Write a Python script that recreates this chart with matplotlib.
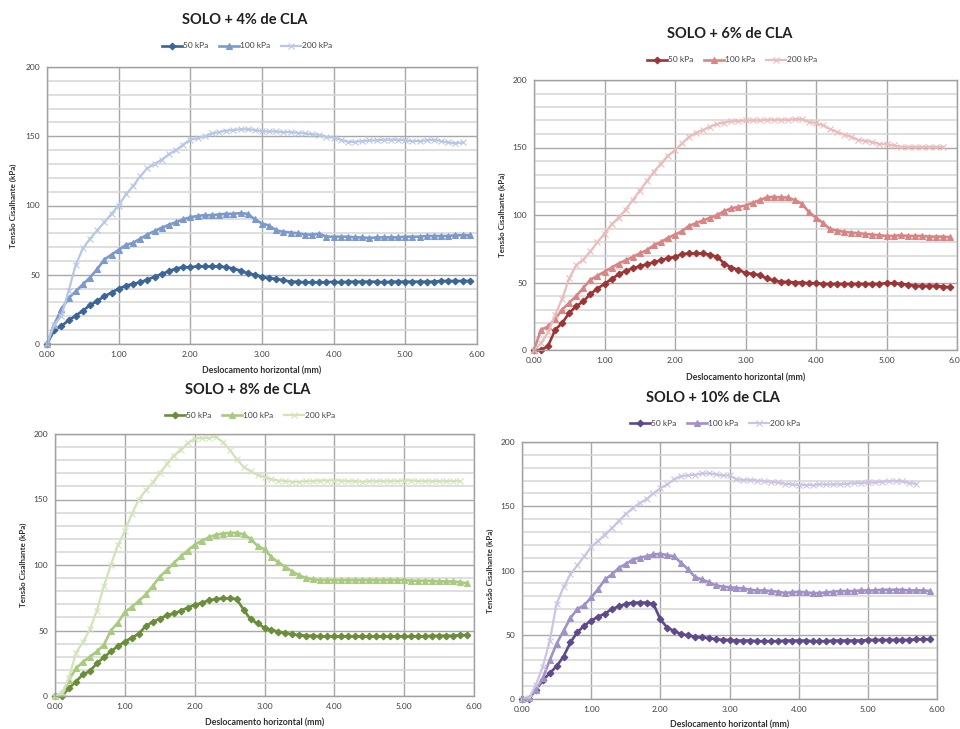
import matplotlib
matplotlib.use("Agg")
import matplotlib.pyplot as plt
from matplotlib.ticker import MultipleLocator, FormatStrFormatter

plt.rcParams['font.family'] = ['Lato', 'DejaVu Sans']

# horizontal displacement (mm), one reading every 0.1 mm
desl = [0.0, 0.1, 0.2, 0.3, 0.4, 0.5, 0.6, 0.7, 0.8, 0.9,
        1.0, 1.1, 1.2, 1.3, 1.4, 1.5, 1.6, 1.7, 1.8, 1.9,
        2.0, 2.1, 2.2, 2.3, 2.4, 2.5, 2.6, 2.7, 2.8, 2.9,
        3.0, 3.1, 3.2, 3.3, 3.4, 3.5, 3.6, 3.7, 3.8, 3.9,
        4.0, 4.1, 4.2, 4.3, 4.4, 4.5, 4.6, 4.7, 4.8, 4.9,
        5.0, 5.1, 5.2, 5.3, 5.4, 5.5, 5.6, 5.7, 5.8, 5.9]

labels = ['50 kPa', '100 kPa', '200 kPa']

# SOLO + 4% de CLA
cla4_50 = [0, 10, 13, 17, 20.5, 24, 28, 31, 34.5, 37,
           40, 42, 43.5, 44.5, 46.5, 48.5, 50.5, 52.5, 54.5, 55.5,
           55.5, 56, 56, 56, 56, 55.5, 54.5, 53, 51, 50,
           48.5, 47.5, 47, 46, 45, 45, 44.5, 44.5, 44.5, 44.5,
           45, 44.5, 45, 45, 45, 45, 45, 44.5, 45, 45,
           45, 45, 45, 45, 45, 45.5, 45.5, 45.5, 45.5, 45.5]
cla4_100 = [0, 14, 25, 33, 38, 43, 48, 54, 61, 64.5,
            68, 71.5, 73, 76, 79, 81.5, 84, 86, 88, 90,
            91.5, 92.5, 93, 93, 93.5, 94, 94, 94.5, 94, 90,
            87, 85.5, 82, 81, 80.5, 80, 79, 79, 79.5, 77.5,
            77.5, 77.5, 77.5, 77, 77, 76.5, 77, 77, 77, 77,
            77.5, 77.5, 77.5, 78, 78, 78, 78, 78.5, 78.5, 78.5]
cla4_200 = [0, 14, 20, 38, 57, 69, 76, 82, 88, 94,
            100, 108, 114, 121, 127, 130, 133, 137, 140, 144,
            147.5, 148.5, 150, 152, 153, 154, 154.5, 155, 155, 154.5,
            153.5, 153.5, 153.5, 153, 153, 152.5, 152, 151.5, 151, 149.5,
            149, 147.5, 146, 146, 146.5, 147, 147, 147.5, 147.5, 147.5,
            147, 146.5, 146.5, 147, 147.5, 146.5, 145.5, 145, 145.5]

# SOLO + 6% de CLA
cla6_50 = [0, 0, 3, 15, 20, 27.5, 32.5, 36, 41.5, 45.5,
           49, 52.5, 56, 58.5, 60.5, 62, 63.5, 65, 66.5, 68,
           69, 71, 71.5, 71.5, 71.5, 70.5, 69, 64, 61, 59.5,
           57, 56.5, 55.5, 53, 51.5, 50.5, 50.5, 50, 50, 49.5,
           49.5, 49, 49, 49, 49, 49, 49, 49, 49, 49,
           49.5, 49.5, 49, 48.5, 47.5, 47.5, 47.5, 47.5, 47, 46.5]
cla6_100 = [0, 15, 17.5, 23, 30, 35, 40, 46, 52, 55,
            58, 61, 64, 66.5, 69, 71.5, 74, 77.5, 80, 83,
            85.5, 88, 92, 94, 96, 98, 100, 103, 105, 106,
            107, 109, 111, 113, 113.5, 113, 113, 111, 108.5, 102,
            98, 94, 89.5, 88.5, 87.5, 87, 86.5, 86, 85.5, 85,
            84.5, 84.5, 85, 84.5, 84.5, 84.5, 84, 84, 84, 83.5]
cla6_200 = [0, 5, 13, 26, 38, 53, 63, 67, 73, 80,
            86, 93, 98, 104, 111, 118, 125, 132, 138, 144,
            148, 153, 158, 161, 163, 165.5, 167.5, 168.5, 169.5, 169.5,
            170, 170, 170, 170.5, 170.5, 170.5, 170.5, 171, 171, 169,
            168, 166.5, 163.5, 161.5, 159.5, 158, 155.5, 155, 154, 152.5,
            152.5, 151.5, 150.5, 150.5, 150.5, 150.5, 150.5, 150.5, 150.5]

# SOLO + 8% de CLA
cla8_50 = [0, 0, 6, 11, 16.5, 19, 25, 29.5, 34, 38,
           41.5, 44.5, 47.5, 53.5, 56.5, 59, 61.5, 63, 65, 67.5,
           69.5, 71, 73, 74, 74.5, 74.5, 74, 66, 58.5, 55.5,
           52, 50.5, 49, 48, 47, 46.5, 46, 46, 45.5, 45.5,
           45.5, 45.5, 45.5, 45.5, 45.5, 45.5, 45.5, 45.5, 45.5, 45.5,
           45.5, 45.5, 45.5, 45.5, 46, 46, 46, 46, 46.5, 46.5]
cla8_100 = [0, 2, 12, 21, 26, 30, 34, 39, 50, 56,
            64, 68, 72.5, 77.5, 84, 91, 96, 101.5, 106.5, 111,
            115.5, 118.5, 121, 123, 124, 124.5, 124.5, 123.5, 120, 114.5,
            112, 106, 102, 98.5, 95, 92, 90, 89, 88.5, 88.5,
            88.5, 88.5, 88.5, 88.5, 88.5, 88.5, 88.5, 88.5, 88.5, 88.5,
            88.5, 88, 88, 88, 88, 87.5, 87.5, 87.5, 87, 86]
cla8_200 = [0, 2, 14, 33, 41, 51, 65, 84, 100, 115,
            126, 139, 150, 157, 163, 170, 177, 183.5, 188, 193,
            196.5, 197, 197, 198, 194, 188, 181, 175, 171.5, 169,
            167, 165.5, 164.5, 164, 163.5, 163.5, 164, 164, 164.5, 164.5,
            164.5, 164.5, 164, 164, 163.5, 164, 164, 164, 164, 164,
            164.5, 164.5, 164, 164, 164, 164, 164, 164, 164]

# SOLO + 10% de CLA
cla10_50 = [0, 0, 7, 14.5, 20, 25.5, 33, 44, 52, 57,
            61, 64, 66.5, 70, 72, 74, 75, 75, 75, 74,
            62, 55.5, 53, 50.5, 49.5, 48.5, 48, 47.5, 46.5, 46,
            46, 45.5, 45.5, 45.5, 45, 45, 45, 45, 45.5, 45.5,
            45.5, 45.5, 45, 45, 45, 45.5, 45.5, 45.5, 45.5, 45.5,
            46, 46, 46, 46, 46, 46, 46, 46.5, 46.5, 46.5]
cla10_100 = [0, 1, 7, 16, 30, 43, 53, 63, 70, 73,
             79, 85.5, 93, 97, 102, 105, 108.5, 110, 111, 112.5,
             113, 112, 111, 106, 101, 95, 93, 91, 88.5, 87.5,
             87, 86.5, 86, 85, 84.5, 84.5, 84, 83.5, 82.5, 83,
             83.5, 83, 82.5, 82.5, 83, 83.5, 84, 84, 84, 84.5,
             84.5, 84.5, 85, 85, 85, 85, 84.5, 84.5, 84.5, 84]
cla10_200 = [0, 0.5, 11, 25, 45, 74, 87, 97, 104, 111,
             118.5, 123, 128, 133, 138.5, 144, 148.5, 152.5, 155.5, 160,
             164, 167, 171, 173.5, 174, 174.5, 175.5, 175.5, 175, 174,
             174, 171, 170.5, 170.5, 170, 169.5, 169, 168.5, 167.5, 167,
             166.5, 166.5, 166.5, 167, 167, 167, 167, 167.5, 168, 168,
             168.5, 168.5, 169, 169.5, 169.5, 169.5, 168, 167.5]

W, H = 960, 729
fig = plt.figure(figsize=(W / 100, H / 100), dpi=100)


def fx(px):
    return px / W


def fy(py):
    return 1 - py / H


def chart(box, title, title_xy, leg_xy, ylab_x, xlab_y, series, colors):
    x0, y0, x1, y1 = box
    ax = fig.add_axes([fx(x0), fy(y1), fx(x1 - x0), (y1 - y0) / H])
    ax.set_xlim(0, 6)
    ax.set_ylim(0, 200)
    ax.xaxis.set_major_locator(MultipleLocator(1))
    ax.xaxis.set_major_formatter(FormatStrFormatter('%.2f'))
    ax.yaxis.set_major_locator(MultipleLocator(50))
    ax.yaxis.set_minor_locator(MultipleLocator(10))
    ax.grid(which='minor', axis='y', color='#d6d6d6', lw=1.1)
    ax.grid(which='major', color='#a8a8a8', lw=1.0)
    ax.set_axisbelow(True)
    for s in ax.spines.values():
        s.set_color('#a0a0a0')
        s.set_linewidth(1.0)
    ax.tick_params(which='both', length=0, labelsize=6, labelcolor='#404040', pad=5)

    markers = ['D', '^', 'x']
    msizes = [3.4, 4.4, 4.0]
    lws = [1.9, 1.9, 1.6]
    handles = []
    for vals, c, m, ms, lw, lab in zip(series, colors, markers, msizes, lws, labels):
        h, = ax.plot(desl[:len(vals)], vals, color=c, marker=m, ms=ms, lw=lw,
                     mew=0.8, label=lab, clip_on=False)
        handles.append(h)

    fig.text(fx(title_xy[0]), fy(title_xy[1]), title, ha='center', va='center',
             fontsize=10.5, fontweight='bold', color='#202020')
    fig.legend(handles=handles, loc='center', ncol=3, frameon=False, fontsize=6,
               bbox_to_anchor=(fx(leg_xy[0]), fy(leg_xy[1])), handlelength=2.4,
               handletextpad=0.1, columnspacing=1.3, labelcolor='#404040')
    fig.text(fx(ylab_x), fy((y0 + y1) / 2), 'Tensão Cisalhante (kPa)', rotation=90,
             ha='center', va='center', fontsize=5.8, fontweight='bold', color='#303030')
    fig.text(fx((x0 + x1) / 2), fy(xlab_y), 'Deslocamento horizontal (mm)',
             ha='center', va='center', fontsize=6.3, fontweight='bold', color='#303030')
    return ax


chart((47, 67, 477, 344), 'SOLO + 4% de CLA', (245, 20), (247, 46), 13, 371,
      [cla4_50, cla4_100, cla4_200], ['#3b6596', '#7b9acb', '#b8c7e3'])
chart((534, 80, 957, 350), 'SOLO + 6% de CLA', (730, 34), (732, 60), 502, 378,
      [cla6_50, cla6_100, cla6_200], ['#9c3535', '#d98585', '#ebbcbc'])
chart((55, 434, 474, 696), 'SOLO + 8% de CLA', (248, 390), (250, 415), 23, 723,
      [cla8_50, cla8_100, cla8_200], ['#6a8d3a', '#a9cb80', '#d2e3b9'])
chart((522, 442, 937, 699), 'SOLO + 10% de CLA', (713, 398), (715, 423), 490, 725,
      [cla10_50, cla10_100, cla10_200], ['#5e4a8a', '#a091c6', '#cdc3e3'])

fig.savefig('out.png', dpi=100)
